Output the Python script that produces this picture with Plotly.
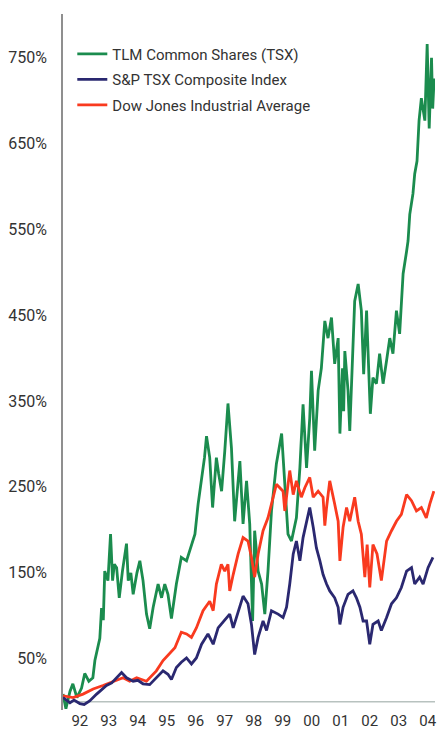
import plotly.graph_objects as go

# ---- data (decimal years, cumulative return %) ----
tlm_t = [1991.92, 1992.02, 1992.16, 1992.26, 1992.40, 1992.56, 1992.67, 1992.81, 1992.95, 1993.02,
         1993.19, 1993.25, 1993.31, 1993.36, 1993.47, 1993.56, 1993.63, 1993.69, 1993.77, 1993.86,
         1993.97, 1994.11, 1994.17, 1994.26, 1994.34, 1994.47, 1994.57, 1994.68, 1994.80, 1994.91,
         1995.03, 1995.14, 1995.20, 1995.32, 1995.43, 1995.54, 1995.66, 1995.83, 1996.00, 1996.18,
         1996.35, 1996.47, 1996.58, 1996.70, 1996.80, 1996.87, 1996.98, 1997.08, 1997.21, 1997.29,
         1997.39, 1997.50, 1997.61, 1997.73, 1997.84, 1998.02, 1998.13, 1998.25, 1998.36, 1998.46,
         1998.53, 1998.65, 1998.77, 1998.88, 1998.99, 1999.11, 1999.28, 1999.46, 1999.57, 1999.68,
         1999.80, 1999.97, 2000.09, 2000.20, 2000.32, 2000.43, 2000.49, 2000.60, 2000.72, 2000.83,
         2000.95, 2001.06, 2001.18, 2001.29, 2001.41, 2001.47, 2001.56, 2001.60, 2001.64, 2001.75,
         2001.81, 2001.92, 2001.98, 2002.10, 2002.21, 2002.29, 2002.39, 2002.44, 2002.52, 2002.61,
         2002.73, 2002.84, 2002.96, 2003.08, 2003.19, 2003.30, 2003.42, 2003.53, 2003.65, 2003.77,
         2003.82, 2003.88, 2003.99, 2004.05, 2004.13, 2004.20, 2004.28, 2004.40, 2004.48, 2004.55,
         2004.63, 2004.67, 2004.72]
tlm_v = [9, -8, 12, 21, 5, 16, 33, 24, 28, 48,
         74, 109, 95, 152, 141, 195, 141, 160, 156, 121,
         152, 184, 141, 150, 125, 150, 164, 141, 102, 85,
         110, 129, 137, 121, 137, 125, 97, 137, 168, 164,
         183, 195, 230, 261, 284, 309, 284, 226, 284, 265,
         245, 292, 347, 295, 210, 280, 207, 257, 207, 94,
         199, 152, 137, 102, 152, 222, 277, 312, 253, 195,
         187, 214, 272, 346, 272, 330, 385, 292, 362, 388,
         443, 423, 447, 393, 423, 312, 388, 338, 408, 362,
         315, 428, 466, 486, 455, 381, 455, 408, 335, 377,
         370, 405, 370, 397, 423, 405, 455, 428, 498, 524,
         536, 567, 591, 614, 629, 676, 702, 676, 765, 667,
         749, 690, 725]

tsx_t = [1991.92, 1992.16, 1992.30, 1992.50, 1992.65, 1992.84, 1993.08, 1993.25, 1993.42, 1993.60,
         1993.77, 1993.94, 1994.11, 1994.34, 1994.50, 1994.68, 1994.91, 1995.14, 1995.37, 1995.54,
         1995.66, 1995.83, 1996.00, 1996.18, 1996.35, 1996.52, 1996.70, 1996.92, 1997.10, 1997.27,
         1997.50, 1997.67, 1997.79, 1997.96, 1998.13, 1998.30, 1998.42, 1998.53, 1998.65, 1998.82,
         1998.94, 1999.11, 1999.34, 1999.51, 1999.63, 1999.74, 1999.86, 1999.97, 2000.09, 2000.20,
         2000.32, 2000.43, 2000.55, 2000.66, 2000.78, 2000.89, 2001.01, 2001.12, 2001.29, 2001.41,
         2001.47, 2001.58, 2001.75, 2001.92, 2002.04, 2002.16, 2002.27, 2002.39, 2002.50, 2002.61,
         2002.79, 2002.90, 2003.08, 2003.25, 2003.42, 2003.59, 2003.77, 2003.94, 2004.05, 2004.22,
         2004.34, 2004.51, 2004.68]
tsx_v = [5, -1, 2, -2, -3, 1, 9, 14, 19, 22,
         28, 34, 28, 24, 25, 21, 20, 28, 36, 32,
         26, 40, 46, 51, 44, 51, 67, 79, 67, 86,
         96, 102, 86, 106, 123, 114, 90, 55, 75, 94,
         83, 106, 102, 98, 110, 137, 172, 187, 164, 191,
         210, 226, 203, 179, 164, 148, 137, 129, 121, 110,
         90, 110, 125, 129, 121, 110, 94, 94, 67, 90,
         94, 83, 98, 114, 121, 133, 152, 156, 137, 145,
         137, 156, 168]

dow_t = [1991.92, 1992.27, 1992.61, 1992.96, 1993.30, 1993.65, 1993.99, 1994.22, 1994.46, 1994.80,
         1994.91, 1995.14, 1995.37, 1995.60, 1995.78, 1996.00, 1996.18, 1996.35, 1996.52, 1996.75,
         1996.98, 1997.10, 1997.21, 1997.38, 1997.50, 1997.61, 1997.67, 1997.79, 1997.96, 1998.13,
         1998.30, 1998.42, 1998.53, 1998.65, 1998.82, 1998.99, 1999.17, 1999.28, 1999.51, 1999.57,
         1999.74, 1999.86, 1999.97, 2000.14, 2000.26, 2000.43, 2000.55, 2000.72, 2000.89, 2000.95,
         2001.01, 2001.12, 2001.29, 2001.41, 2001.47, 2001.58, 2001.70, 2001.81, 2001.98, 2002.10,
         2002.21, 2002.33, 2002.41, 2002.50, 2002.61, 2002.75, 2002.90, 2003.08, 2003.25, 2003.42,
         2003.59, 2003.77, 2003.94, 2004.11, 2004.28, 2004.45, 2004.57, 2004.71]
dow_v = [7, 5, 9, 15, 19, 24, 28, 24, 28, 24,
         28, 36, 48, 57, 63, 81, 79, 75, 86, 106,
         117, 106, 137, 160, 152, 160, 129, 148, 172, 191,
         187, 168, 145, 172, 199, 214, 238, 253, 245, 222,
         269, 241, 257, 238, 249, 261, 238, 245, 238, 205,
         226, 257, 230, 210, 164, 203, 226, 210, 238, 210,
         195, 145, 183, 133, 183, 172, 141, 187, 199, 210,
         218, 241, 234, 222, 226, 214, 230, 245]

year_labels = ["92", "93", "94", "95", "96", "97", "98", "99", "00", "01", "02", "03", "04"]
year_ticks = [1992.5, 1993.5, 1994.5, 1995.5, 1996.5, 1997.5, 1998.5, 1999.5,
              2000.5, 2001.5, 2002.5, 2003.5, 2004.5]
pct_ticks = [50, 150, 250, 350, 450, 550, 650, 750]
pct_labels = ["50%", "150%", "250%", "350%", "450%", "550%", "650%", "750%"]

FONT = "Roboto, Liberation Sans, sans-serif"
TXT = "#333333"
GREEN = "#1b8c4e"
NAVY = "#2a2870"
RED = "#f93a1f"

fig = go.Figure()
fig.add_trace(go.Scatter(x=tlm_t, y=tlm_v, mode="lines", name="TLM Common Shares (TSX)",
                         legendgroup="a", line=dict(color=GREEN, width=2.8), legendrank=1))
fig.add_trace(go.Scatter(x=dow_t, y=dow_v, mode="lines", name="Dow Jones Industrial Average",
                         legendgroup="c", line=dict(color=RED, width=2.8), legendrank=3))
fig.add_trace(go.Scatter(x=tsx_t, y=tsx_v, mode="lines", name="S&P TSX Composite Index",
                         legendgroup="b", line=dict(color=NAVY, width=2.8), legendrank=2))

fig.add_shape(type="line", xref="paper", yref="y", x0=0, x1=1, y0=0, y1=0,
              line=dict(color="#b8c2bf", width=1.5), layer="below")

fig.update_layout(
    width=437, height=729,
    margin=dict(l=63, r=2, t=14, b=19),
    paper_bgcolor="white", plot_bgcolor="white",
    font=dict(family=FONT, size=15, color=TXT),
    showlegend=True,
    legend=dict(x=0.025, y=0.966, xanchor="left", yanchor="top",
                bgcolor="rgba(0,0,0,0)", font=dict(family=FONT, size=15, color=TXT),
                itemwidth=30, tracegroupgap=3),
    xaxis=dict(range=[1991.92, 2004.75], tickvals=year_ticks, ticktext=year_labels,
               showgrid=False, zeroline=False, showline=False, automargin=False,
               ticks="",
               tickfont=dict(family=FONT, size=15, color=TXT)),
    yaxis=dict(range=[-9.5, 800], tickvals=pct_ticks, ticktext=pct_labels,
               showgrid=False, zeroline=False, showline=True, linecolor="#8f8f8f", linewidth=1.5,
               automargin=False,
               ticks="outside", ticklen=11, tickcolor="rgba(0,0,0,0)",
               tickfont=dict(family=FONT, size=16, color=TXT)),
)

fig.write_html("out.html")
